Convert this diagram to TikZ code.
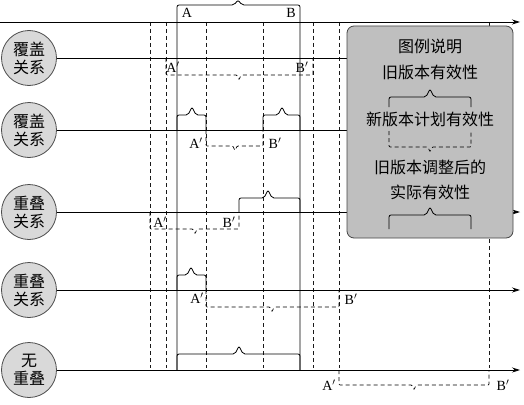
\documentclass[tikz,border=0pt]{standalone}
\usepackage{fontspec}
\setmainfont{Liberation Serif}
\newfontfamily\cjk{Noto Sans CJK SC}
\usetikzlibrary{arrows.meta}
\tikzset{
  relation/.style={circle, draw=gray!60!black, fill=gray!30, line width=0.8pt,
    minimum size=55pt, inner sep=0pt, align=center,
    font=\cjk\fontsize{16}{18}\selectfont},
  timeline/.style={line width=0.8pt, -{Stealth[length=8pt,width=5pt]}},
  guide/.style={dash pattern=on 4pt off 3pt, line width=0.6pt, gray!20!black},
  period/.style={line width=0.8pt, rounded corners=2pt},
  plan/.style={dash pattern=on 4pt off 3pt, line width=0.7pt, rounded corners=1pt},
  point/.style={inner sep=0pt, font=\fontsize{14}{16}\selectfont},
  legendbox/.style={draw=gray!55!black, fill=gray!50, line width=0.8pt,
    rounded corners=7pt, minimum width=166pt, minimum height=212pt},
  legendtext/.style={inner sep=0pt, font=\cjk\fontsize{16}{18}\selectfont}
}
% solid span above a timeline: x1, x2, top, line, tip
\newcommand{\oldspan}[5]{\draw[period] (#1,#4) -- (#1,#3) -- ({#5-4},#3) -- (#5,{#3-8}) -- ({#5+4},#3) -- (#2,#3) -- (#2,#4);}
% dashed span below a timeline: x1, x2, bottom, line, tip
\newcommand{\planspan}[5]{\draw[plan] (#1,#4) -- (#1,#3) -- ({#5-2},#3) -- (#5,{#3+5}) -- ({#5+2},#3) -- (#2,#3) -- (#2,#4);}
\begin{document}
\begin{tikzpicture}[x=1pt, y=-1pt]
    \useasboundingbox (0,0) rectangle (524,404);

    % guide lines
    \foreach \gx in {150, 166, 206, 263, 313, 339, 489}
        \draw [guide] (\gx, 22) -- (\gx, 368);

    % relation circles
    \node [relation] (r1) at (29, 58) {覆盖\\关系};
    \node [relation] (r2) at (29, 130) {覆盖\\关系};
    \node [relation] (r3) at (29, 212) {重叠\\关系};
    \node [relation] (r4) at (29, 290) {重叠\\关系};
    \node [relation] (r5) at (29, 370) {无\\重叠};

    % old version A--B
    \draw [period] (177, 370) -- (177, 5) -- (234, 5) -- (238, 0) -- (242, 5) -- (300, 5) -- (300, 370);
    \node [point] (a) at (187, 13) {A};
    \node [point] (b) at (291, 13) {B};

    % timelines
    \draw [timeline] (0, 22) -- (520, 22);
    \draw [line width=0.8pt] (r1.east) -- (347, 58);
    \draw [line width=0.8pt] (r2.east) -- (347, 130);
    \draw [timeline] (r3.east) -- (520, 212);
    \draw [timeline] (r4.east) -- (520, 290);
    \draw [timeline] (r5.east) -- (520, 370);

    % row 1
    \planspan{166}{313}{75}{58}{239}
    \node [point] (a1) at (173, 67) {A$'$};
    \node [point] (b1) at (302, 67) {B$'$};

    % row 2
    \oldspan{177}{206}{115}{130}{192}
    \oldspan{263}{300}{115}{130}{282}
    \planspan{206}{263}{146}{130}{235}
    \node [point] (a2) at (196, 143) {A$'$};
    \node [point] (b2) at (275, 143) {B$'$};

    % row 3
    \oldspan{239}{300}{198}{212}{268}
    \planspan{150}{239}{229}{212}{195}
    \node [point] (a3) at (160, 222) {A$'$};
    \node [point] (b3) at (229, 222) {B$'$};

    % row 4
    \oldspan{177}{206}{275}{290}{191}
    \planspan{206}{339}{307}{290}{272}
    \node [point] (a4) at (197, 298) {A$'$};
    \node [point] (b4) at (351, 299) {B$'$};

    % row 5
    \oldspan{177}{300}{354}{370}{239}
    \planspan{339}{489}{385}{370}{414}
    \node [point] (a5) at (329, 385) {A$'$};
    \node [point] (b5) at (503, 385) {B$'$};

    % legend
    \node [legendbox] (legend) at (430, 132) {};
    \node [legendtext] (title) at (430, 46) {图例说明};
    \node [legendtext] (oldtext) at (430, 72) {旧版本有效性};
    \oldspan{389}{471}{97}{107}{430}
    \node [legendtext] (plantext) at (430, 119) {新版本计划有效性};
    \planspan{389}{471}{147}{131}{430}
    \node [legendtext] (realtext) at (430, 167) {旧版本调整后的};
    \node [legendtext] (realtext2) at (430, 192) {实际有效性};
    \oldspan{389}{471}{215}{229}{430}
\end{tikzpicture}
\end{document}
